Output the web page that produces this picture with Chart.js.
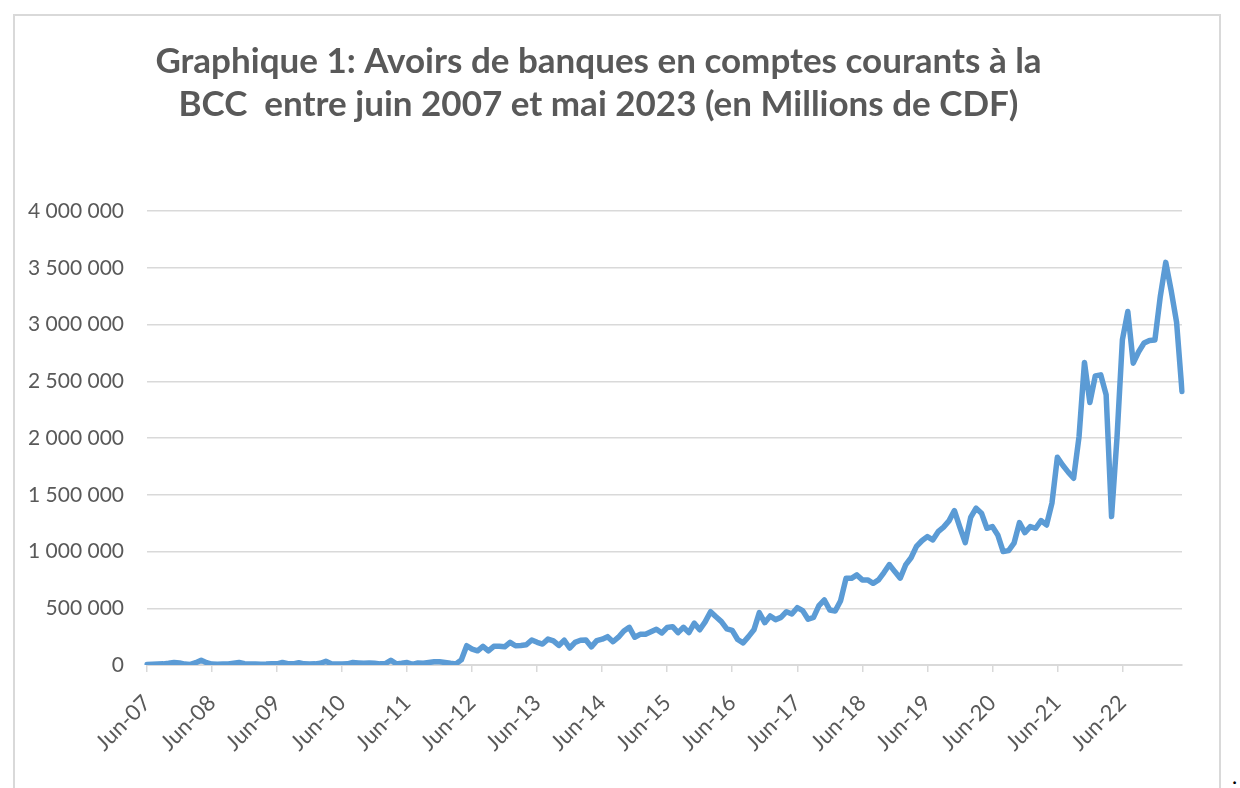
<!DOCTYPE html>
<html>
<head>
<meta charset="utf-8">
<script src="https://cdn.jsdelivr.net/npm/chart.js@4.4.0/dist/chart.umd.min.js"></script>
<style>
  html, body { margin: 0; padding: 0; background: #fff; overflow: hidden; }
  #cadre { position: absolute; left: 13px; top: 14px; width: 1204px; height: 790px;
           border: 2px solid #d9d9d9; border-bottom: none; }
  #cadre canvas { display: block; }
  #point { position: absolute; left: 1232px; top: 762px; font: 22px Lato, sans-serif; color: #000; }
</style>
</head>
<body>
<div id="cadre"><canvas id="avoirsChart" width="1204" height="772"></canvas></div>
<span id="point">.</span>
<script>
// Avoirs de banques en comptes courants a la BCC (millions de CDF), juin 2007 - mai 2023
const avoirs = [
  5000, 6000, 8000, 10000, 15000, 22000, 18000, 8000, 5000, 20000, 42000, 20000,
  8000, 6000, 8000, 8000, 15000, 22000, 12000, 8000, 8000, 6000, 8000, 12000,
  10000, 22000, 12000, 10000, 20000, 10000, 8000, 10000, 15000, 32000, 10000, 8000,
  8000, 10000, 22000, 18000, 15000, 18000, 15000, 10000, 12000, 42000, 10000, 15000,
  22000, 5000, 18000, 15000, 22000, 28000, 28000, 22000, 15000, 10000, 45000, 170000,
  140000, 125000, 165000, 125000, 165000, 165000, 160000, 200000, 170000, 172000, 178000, 220000,
  200000, 185000, 228000, 212000, 172000, 218000, 150000, 200000, 218000, 220000, 160000, 215000,
  228000, 250000, 205000, 245000, 300000, 332000, 245000, 270000, 270000, 292000, 315000, 282000,
  330000, 338000, 285000, 332000, 285000, 368000, 310000, 380000, 470000, 425000, 382000, 318000,
  305000, 225000, 195000, 250000, 310000, 461000, 373000, 432000, 400000, 420000, 470000, 450000,
  505000, 479000, 403000, 420000, 523000, 573000, 485000, 476000, 567000, 764000, 764000, 794000,
  750000, 750000, 720000, 750000, 815000, 885000, 823000, 765000, 882000, 945000, 1045000, 1095000,
  1131000, 1102000, 1175000, 1215000, 1270000, 1361000, 1215000, 1079000, 1300000, 1382000, 1338000, 1205000,
  1220000, 1146000, 1000000, 1008000, 1073000, 1255000, 1167000, 1220000, 1205000, 1273000, 1234000, 1426000,
  1830000, 1760000, 1700000, 1646000, 2013000, 2666000, 2313000, 2548000, 2557000, 2381000, 1308000, 2000000,
  2866000, 3115000, 2660000, 2760000, 2837000, 2860000, 2865000, 3250000, 3548000, 3300000, 3020000, 2410000
];

const moisAbr = ['Jan', 'Feb', 'Mar', 'Apr', 'May', 'Jun', 'Jul', 'Aug', 'Sep', 'Oct', 'Nov', 'Dec'];
const anneeDebut = 2007;
const moisDebut = 5; // juin
const categories = avoirs.map((_, i) => {
  const m = moisDebut + i;
  return moisAbr[m % 12] + '-' + String(anneeDebut + Math.floor(m / 12)).slice(2);
});

const yMax = 4000000;
const yPas = 500000;
const titre = ['Graphique 1: Avoirs de banques en comptes courants à la',
               'BCC  entre juin 2007 et mai 2023 (en Millions de CDF)'];

const gris = '#d9d9d9';
const texte = '#595959';

const ctx = document.getElementById('avoirsChart').getContext('2d');
const avoirsChart = new Chart(ctx, {
  type: 'line',
  data: {
    labels: categories,
    datasets: [{
      data: avoirs,
      borderColor: '#5b9bd5',
      borderWidth: 5.5,
      pointRadius: 0,
      tension: 0,
      borderJoinStyle: 'round',
      borderCapStyle: 'round'
    }]
  },
  options: {
    responsive: false,
    animation: false,
    layout: { padding: { left: 0, right: 37, top: 0, bottom: 0 } },
    scales: {
      x: {
        offset: false,
        grid: {
          drawOnChartArea: false,
          drawTicks: true,
          tickLength: 7,
          lineWidth: 1.5,
          color: c => (c.index % 12 === 0 ? gris : 'rgba(0,0,0,0)')
        },
        border: { display: true, color: gris, width: 2 },
        ticks: {
          autoSkip: false,
          minRotation: 45,
          maxRotation: 45,
          padding: 18,
          color: texte,
          font: { family: 'Lato', size: 22 },
          callback: (v, i) => (i % 12 === 0 ? categories[i] : '')
        },
        afterFit: s => { s.height = 123; }
      },
      y: {
        min: 0,
        max: yMax,
        grid: { color: gris, lineWidth: 1.5, drawTicks: false },
        border: { display: false },
        ticks: {
          stepSize: yPas,
          padding: 23,
          color: texte,
          font: { family: 'Lato', size: 21 },
          callback: v => String(v).replace(/\B(?=(\d{3})+(?!\d))/g, ' ')
        },
        afterFit: s => { s.width = 132; }
      }
    },
    plugins: {
      legend: { display: false },
      tooltip: { enabled: false },
      title: {
        display: true,
        text: titre,
        color: texte,
        font: { family: 'Lato', size: 35, weight: 'bold', lineHeight: 1.23 },
        padding: { top: 24, bottom: 85 }
      }
    }
  }
});
</script>
</body>
</html>
